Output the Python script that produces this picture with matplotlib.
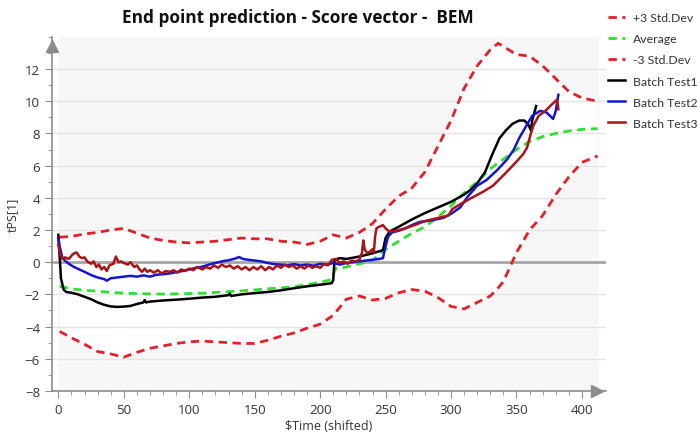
import matplotlib.pyplot as plt
from matplotlib.ticker import MultipleLocator

# --- data -------------------------------------------------------------
# control limits share one time axis
t_lim = [1, 10, 20, 30, 40, 50, 60, 70, 80, 90, 100, 110, 120, 130, 140, 150,
         160, 170, 180, 190, 200, 210, 220, 230, 240, 250, 260, 270, 280, 290,
         300, 310, 320, 330, 336, 340, 350, 360, 370, 380, 390, 400, 412]
upper = [1.55, 1.6, 1.75, 1.85, 2.0, 2.1, 1.8, 1.5, 1.35, 1.25, 1.2, 1.25, 1.3,
         1.4, 1.5, 1.45, 1.45, 1.3, 1.25, 1.1, 1.3, 1.7, 1.5, 1.85, 2.4, 3.3,
         4.1, 4.6, 5.6, 7.2, 8.8, 10.8, 12.2, 13.2, 13.6, 13.4, 12.9, 12.8,
         12.2, 11.4, 10.6, 10.2, 10.0]
lower = [-4.3, -4.7, -5.1, -5.55, -5.7, -5.9, -5.6, -5.35, -5.2, -5.05, -4.95,
         -4.9, -4.95, -5.0, -5.05, -5.05, -4.85, -4.6, -4.4, -4.1, -3.85, -3.3,
         -2.3, -2.1, -2.35, -2.25, -1.9, -1.7, -1.8, -2.2, -2.75, -2.9, -2.5,
         -2.1, -1.6, -1.2, 0.6, 2.0, 2.9, 4.2, 5.3, 6.2, 6.6]

t_avg = [1, 10, 20, 30, 40, 50, 60, 70, 80, 90, 100, 110, 120, 130, 140, 150,
         160, 170, 180, 190, 200, 208, 212, 220, 230, 240, 250, 260, 270, 280,
         290, 300, 310, 320, 330, 340, 350, 360, 370, 380, 390, 400, 412]
average = [-1.5, -1.65, -1.75, -1.8, -1.88, -1.92, -1.95, -1.97, -1.98, -1.97,
           -1.95, -1.93, -1.88, -1.83, -1.78, -1.72, -1.65, -1.6, -1.52, -1.4,
           -1.25, -1.1, -0.4, -0.3, -0.1, 0.1, 0.8, 1.3, 1.8, 2.2, 2.8, 3.5,
           4.3, 5.0, 5.8, 6.4, 7.0, 7.5, 7.8, 8.0, 8.15, 8.25, 8.3]

t_b1 = [0, 2, 4, 6, 10, 15, 20, 25, 30, 35, 40, 45, 50, 55, 60, 65, 66, 67, 70,
        80, 90, 100, 110, 120, 130, 131, 132, 140, 150, 160, 170, 180, 190, 200,
        205, 209, 210, 211, 215, 220, 230, 240, 248, 250, 253, 260, 270, 280,
        290, 300, 310, 315, 320, 326, 331, 337, 342, 347, 352, 356, 359, 361,
        362, 364, 365]
batch1 = [1.7, -1.0, -1.7, -1.85, -1.9, -2.0, -2.15, -2.3, -2.5, -2.65, -2.75,
          -2.78, -2.76, -2.72, -2.6, -2.5, -2.35, -2.5, -2.45, -2.38, -2.33,
          -2.27, -2.2, -2.15, -2.05, -1.95, -2.1, -2.0, -1.92, -1.85, -1.75,
          -1.62, -1.5, -1.4, -1.35, -1.3, -1.1, 0.15, 0.25, 0.2, 0.35, 0.55,
          0.75, 1.5, 1.9, 2.2, 2.65, 3.05, 3.4, 3.75, 4.2, 4.5, 4.9, 5.6, 6.6,
          7.7, 8.2, 8.6, 8.8, 8.8, 8.55, 8.2, 8.8, 9.4, 9.7]

t_b2 = [0, 1, 3, 5, 8, 12, 16, 20, 25, 30, 35, 37, 40, 45, 50, 55, 60, 65, 70,
        75, 80, 85, 90, 95, 100, 105, 110, 115, 120, 125, 130, 135, 138, 141,
        145, 150, 155, 160, 165, 170, 175, 180, 185, 190, 195, 200, 205, 210,
        215, 220, 225, 230, 235, 240, 245, 248, 250, 252, 255, 260, 265, 270,
        276, 285, 294, 300, 307, 313, 320, 327, 335, 343, 348, 352, 357, 362,
        368, 373, 378, 380, 382]
batch2 = [1.5, 1.0, 0.3, 0.1, -0.1, -0.3, -0.45, -0.6, -0.8, -0.95, -1.05,
          -1.15, -1.0, -0.95, -0.9, -0.85, -0.9, -0.82, -0.9, -0.78, -0.75,
          -0.7, -0.62, -0.55, -0.45, -0.35, -0.28, -0.15, -0.05, 0.05, 0.12,
          0.22, 0.32, 0.2, 0.15, 0.1, 0.05, -0.05, -0.12, -0.15, -0.2, -0.12,
          -0.2, -0.15, -0.22, -0.1, -0.15, -0.05, -0.15, -0.05, 0.0, 0.05, 0.1,
          0.15, 0.2, 0.25, 1.0, 1.6, 1.85, 1.95, 2.1, 2.3, 2.5, 2.6, 2.75, 3.0,
          3.4, 4.1, 4.75, 5.1, 5.7, 6.4, 7.0, 7.7, 8.4, 9.1, 9.4, 9.3, 8.9, 9.4,
          10.4]

t_b3 = [0, 1, 3, 5, 8, 10, 12, 14, 16, 18, 20, 22, 25, 27, 29, 31, 33, 35, 37,
        39, 42, 44, 46, 48, 50, 53, 55, 58, 60, 62, 64, 66, 68, 70, 73, 76, 79,
        82, 85, 88, 91, 94, 97, 100, 103, 106, 110, 113, 116, 119, 122, 125,
        128, 131, 134, 137, 140, 143, 146, 149, 152, 155, 158, 161, 164, 167,
        170, 173, 176, 179, 182, 185, 188, 191, 194, 197, 200, 203, 206, 209,
        212, 215, 218, 221, 224, 227, 230, 232, 233, 234, 236, 238, 240, 241,
        242, 243, 245, 248, 250, 253, 258, 265, 272, 280, 290, 298, 301, 307,
        317, 325, 332, 340, 346, 350, 355, 358, 361, 363, 367, 372, 377, 381,
        382]
batch3 = [1.1, 0.6, 0.2, 0.3, 0.2, 0.4, 0.55, 0.6, 0.35, 0.25, 0.3, 0.05, -0.1,
          0.05, -0.3, -0.15, -0.45, -0.3, -0.55, -0.2, -0.1, 0.35, 0.0, 0.05,
          -0.05, -0.15, 0.0, -0.3, -0.2, -0.45, -0.6, -0.4, -0.6, -0.5, -0.65,
          -0.5, -0.7, -0.55, -0.6, -0.5, -0.65, -0.45, -0.55, -0.4, -0.5, -0.3,
          -0.45, -0.3, -0.4, -0.2, -0.35, -0.15, -0.3, -0.2, -0.4, -0.25, -0.45,
          -0.3, -0.5, -0.3, -0.45, -0.25, -0.5, -0.3, -0.45, -0.2, -0.35, -0.15,
          -0.3, -0.2, -0.4, -0.25, -0.4, -0.2, -0.35, -0.25, -0.35, -0.1, -0.2,
          0.15, 0.2, -0.05, 0.05, -0.1, 0.1, 0.05, 0.15, 0.6, 1.35, 0.8, 0.55,
          0.65, 0.8, 0.6, 1.6, 2.1, 2.2, 2.3, 2.1, 1.9, 1.95, 2.1, 2.3, 2.55,
          2.75, 2.9, 3.3, 3.6, 4.05, 4.4, 4.75, 5.4, 5.9, 6.25, 6.7, 7.1, 8.0,
          8.5, 9.1, 9.4, 9.8, 10.1, 9.5]

# --- figure -----------------------------------------------------------
plt.rcParams['font.family'] = ['Open Sans', 'DejaVu Sans']

fig = plt.figure(figsize=(7, 4.35), dpi=100)
ax = fig.add_axes([0.074, 0.099, 0.791, 0.814])

# grey plot area from t=0, white band between the control limits
ax.axvspan(0, 413, color='#f7f7f7', zorder=0.2, lw=0)
ax.fill_between(t_lim, lower, upper, color='white', zorder=0.5, lw=0)

ax.set_xlim(-5, 418)
ax.set_ylim(-8, 14)
ax.yaxis.set_minor_locator(MultipleLocator(1))
ax.xaxis.set_minor_locator(MultipleLocator(10))
ax.set_yticks(range(-8, 13, 2))
ax.set_xticks(range(0, 401, 50))

ax.grid(axis='y', color='#e4e4e4', lw=1, zorder=0.6)
ax.set_axisbelow(True)
ax.axhline(0, color='#a6a6a6', lw=2, zorder=1)

for s in ['top', 'right']:
    ax.spines[s].set_visible(False)
for s in ['left', 'bottom']:
    ax.spines[s].set_color('#8c8c8c')
    ax.spines[s].set_linewidth(1.2)
ax.tick_params(which='both', color='#8c8c8c', labelcolor='#333333',
               labelsize=9.5, direction='out')
ax.tick_params(which='major', length=5)
ax.tick_params(which='minor', length=3)

# arrow heads on the axes
ax.plot(0, 0.975, marker='^', color='#8c8c8c', markersize=8,
        transform=ax.transAxes, clip_on=False, zorder=5)
ax.plot(0.985, 0, marker='>', color='#8c8c8c', markersize=8,
        transform=ax.transAxes, clip_on=False, zorder=5)

red = '#e3202a'
ax.plot(t_lim, upper, color=red, lw=2, ls=(0, (3, 2)), label='+3 Std.Dev', zorder=3)
ax.plot(t_avg, average, color='#2fe02f', lw=2, ls=(0, (3, 2)), label='Average', zorder=3)
ax.plot(t_lim, lower, color=red, lw=2, ls=(0, (3, 2)), label='-3 Std.Dev', zorder=3)
ax.plot(t_b1, batch1, color='black', lw=1.8, label='Batch Test1', zorder=4)
ax.plot(t_b2, batch2, color='#1515d0', lw=1.8, label='Batch Test2', zorder=4)
ax.plot(t_b3, batch3, color='#aa1418', lw=1.8, label='Batch Test3', zorder=4)

fig.text(0.425, 0.958, 'End point prediction - Score vector -  BEM',
         fontsize=12.4, fontweight='bold', color='#111111',
         ha='center', va='center')
ax.set_xlabel('$Time (shifted)', fontsize=9, color='#333333', labelpad=2)
ax.set_ylabel('tPS[1]', fontsize=9, color='#333333', labelpad=4)

ax.legend(loc='upper left', bbox_to_anchor=(0.985, 1.1), frameon=False,
          prop={'family': 'Lato', 'size': 8.8}, handlelength=1.4,
          handletextpad=0.6, labelspacing=0.82, labelcolor='#333333')

fig.savefig('out.png', dpi=100)
